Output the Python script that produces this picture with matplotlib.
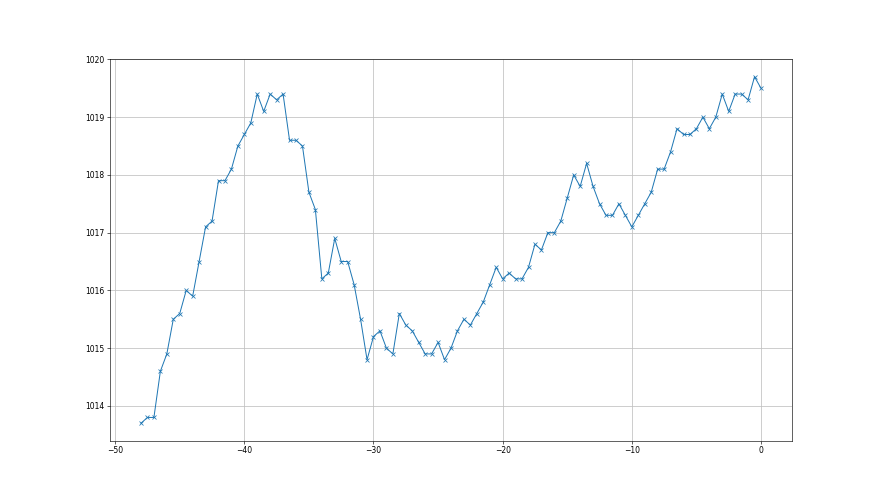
import matplotlib
matplotlib.use("Agg")
import matplotlib.pyplot as plt
import numpy as np

hours = [-48 + 0.5 * i for i in range(97)]
pressure = [
    1013.7, 1013.8, 1013.8, 1014.6, 1014.9, 1015.5, 1015.6, 1016.0, 1015.9, 1016.5,
    1017.1, 1017.2, 1017.9, 1017.9, 1018.1, 1018.5, 1018.7, 1018.9, 1019.4, 1019.1,
    1019.4, 1019.3, 1019.4, 1018.6, 1018.6, 1018.5, 1017.7, 1017.4, 1016.2, 1016.3,
    1016.9, 1016.5, 1016.5, 1016.1, 1015.5, 1014.8, 1015.2, 1015.3, 1015.0, 1014.9,
    1015.6, 1015.4, 1015.3, 1015.1, 1014.9, 1014.9, 1015.1, 1014.8, 1015.0, 1015.3,
    1015.5, 1015.4, 1015.6, 1015.8, 1016.1, 1016.4, 1016.2, 1016.3, 1016.2, 1016.2,
    1016.4, 1016.8, 1016.7, 1017.0, 1017.0, 1017.2, 1017.6, 1018.0, 1017.8, 1018.2,
    1017.8, 1017.5, 1017.3, 1017.3, 1017.5, 1017.3, 1017.1, 1017.3, 1017.5, 1017.7,
    1018.1, 1018.1, 1018.4, 1018.8, 1018.7, 1018.7, 1018.8, 1019.0, 1018.8, 1019.0,
    1019.4, 1019.1, 1019.4, 1019.4, 1019.3, 1019.7, 1019.5,
]

fig, ax = plt.subplots(figsize=(16, 9), dpi=55)
ax.plot(hours, pressure, marker="x", markersize=5, color="#1f77b4", linewidth=1.3)
ax.grid(True, color="#c0c0c0", linewidth=1)
ax.set_axisbelow(True)
ax.ticklabel_format(axis="y", useOffset=False)
fig.savefig("out.png", dpi=55)
